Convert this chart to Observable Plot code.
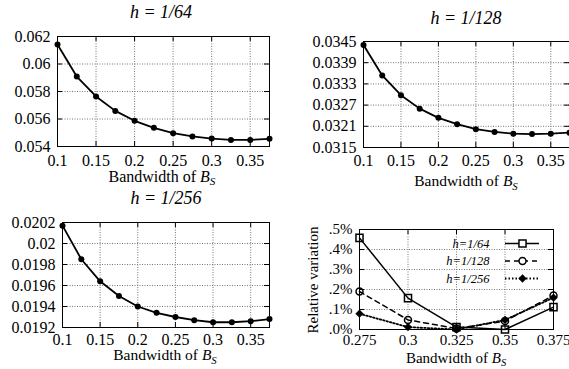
<!DOCTYPE html>
<html><head><meta charset="utf-8">
<script src="https://cdn.jsdelivr.net/npm/d3@7"></script>
<script src="https://cdn.jsdelivr.net/npm/@observablehq/plot@0.6"></script>
<style>
body{margin:0;background:#fff;font-family:"Liberation Serif","Times New Roman",serif;}
#root{position:relative;width:569px;height:369px;overflow:hidden;color:#000;background:#fff;font-family:"Liberation Serif","Times New Roman",serif;}
.panel{position:absolute;}
.title{position:absolute;font-style:italic;white-space:nowrap;transform:translate(-50%,-50%);line-height:1;}
.xlabel{position:absolute;white-space:nowrap;transform:translate(-50%,-50%);line-height:1;}
.xlabel sub{font-size:70%;vertical-align:-0.3em;line-height:0;}
.ylabel{position:absolute;white-space:nowrap;transform:translate(-50%,-50%) rotate(-90deg);line-height:1;}
</style></head><body><div id="root"></div>
<script>
// ---- data ----
const bandwidth = [0.1, 0.125, 0.15, 0.175, 0.2, 0.225, 0.25, 0.275, 0.3, 0.325, 0.35, 0.375];
const err64  = [0.06142, 0.05909, 0.05764, 0.05659, 0.05587, 0.05536, 0.05497, 0.05473, 0.05458, 0.05448, 0.05448, 0.05456];
const err128 = [0.03440, 0.03354, 0.03298, 0.03260, 0.03234, 0.03216, 0.03202, 0.03194, 0.03189, 0.03188, 0.03189, 0.03192];
const err256 = [0.02017, 0.01985, 0.01964, 0.01950, 0.01940, 0.01934, 0.01930, 0.01927, 0.01925, 0.01925, 0.01926, 0.01928];
const xTicksMain = [0.1, 0.15, 0.2, 0.25, 0.3, 0.35];
const xTickLabelsMain = ["0.1", "0.15", "0.2", "0.25", "0.3", "0.35"];
const yTicks64 = [0.054, 0.056, 0.058, 0.06, 0.062];
const yTickLabels64 = ["0.054", "0.056", "0.058", "0.06", "0.062"];
const yTicks128 = [0.0315, 0.0321, 0.0327, 0.0333, 0.0339, 0.0345];
const yTickLabels128 = ["0.0315", "0.0321", "0.0327", "0.0333", "0.0339", "0.0345"];
const yTicks256 = [0.0192, 0.0194, 0.0196, 0.0198, 0.02, 0.0202];
const yTickLabels256 = ["0.0192", "0.0194", "0.0196", "0.0198", "0.02", "0.0202"];

const bwVar = [0.275, 0.3, 0.325, 0.35, 0.375];
const var64  = [0.458, 0.157, 0.012, 0.000, 0.112]; // percent
const var128 = [0.190, 0.048, 0.005, 0.042, 0.170];
const var256 = [0.079, 0.012, 0.000, 0.048, 0.159];
const xTicksVar = [0.275, 0.3, 0.325, 0.35, 0.375];
const xTickLabelsVar = ["0.275", "0.3", "0.325", "0.35", "0.375"];
const yTicksVar = [0, 0.1, 0.2, 0.3, 0.4, 0.5];
const yTickLabelsVar = [".0%", ".1%", ".2%", ".3%", ".4%", ".5%"];

const seriesNames = ["h=1/64", "h=1/128", "h=1/256"];
const titles = ["h = 1/64", "h = 1/128", "h = 1/256"];
const xLabelText = "Bandwidth of ";
const yLabelVar = "Relative variation";

// ---- helpers ----
const root = document.getElementById("root");
const FONT = '"Liberation Serif", "Times New Roman", serif';

// warm up the serif font before drawing
(function warm() {
  const c = document.createElement("canvas").getContext("2d");
  for (const st of ["", "italic "]) { c.font = `${st}16px "Liberation Serif"`; c.measureText("Bandwidth 0.0123456789 h=1/64 %"); }
})();

function panel({left, top, width, height, mL, mR, mT, mB, xDomain, yDomain, xTicks, xLabels, yTicks, yLabels, marks, fontSize, xPad}) {
  const W = width - mL - mR, H = height - mT - mB, t = 5;
  const grid = {stroke: "#777", strokeOpacity: 1, strokeWidth: 1, strokeDasharray: "1,1.5"};
  const txt = {fill: "#000", fontFamily: FONT, fontSize, fontVariant: "normal"};
  const svg = Plot.plot({
    width, height, marginLeft: mL, marginRight: mR, marginTop: mT, marginBottom: mB,
    style: {fontFamily: FONT, fontSize: fontSize + "px", color: "#000", background: "none", overflow: "visible"},
    x: {domain: xDomain, axis: null},
    y: {domain: yDomain, axis: null},
    marks: [
      Plot.gridX(xTicks, grid),
      Plot.gridY(yTicks, grid),
      Plot.text(xTicks, {x: d => d, text: (d, i) => xLabels[i], frameAnchor: "bottom", lineAnchor: "top", dy: xPad, ...txt}),
      Plot.text(yTicks, {y: d => d, text: (d, i) => yLabels[i], frameAnchor: "left", textAnchor: "end", dx: -7, ...txt}),
      Plot.tickX(xTicks, {x: d => d, insetTop: H - t, stroke: "#000"}),
      Plot.tickX(xTicks, {x: d => d, insetBottom: H - t, stroke: "#000"}),
      Plot.tickY(yTicks, {y: d => d, insetRight: W - t, stroke: "#000"}),
      Plot.tickY(yTicks, {y: d => d, insetLeft: W - t, stroke: "#000"}),
      ...marks,
      Plot.frame({stroke: "#000", strokeWidth: 1})
    ]
  });
  const div = document.createElement("div");
  div.className = "panel";
  div.style.left = left + "px";
  div.style.top = top + "px";
  div.appendChild(svg);
  root.appendChild(div);
}

function curveMarks(values) {
  const data = bandwidth.map((b, i) => ({b, v: values[i]}));
  return [
    Plot.line(data, {x: "b", y: "v", stroke: "#000", strokeWidth: 1.8}),
    Plot.dot(data, {x: "b", y: "v", r: 3, fill: "#000"})
  ];
}

function addText(cls, html, x, y, size) {
  const d = document.createElement("div");
  d.className = cls;
  d.style.left = x + "px";
  d.style.top = y + "px";
  d.style.fontSize = size + "px";
  d.style.fontFamily = FONT;
  d.innerHTML = html;
  root.appendChild(d);
}
const xLabelHTML = `${xLabelText}<i>B<sub>S</sub></i>`;

function render() {
  root.innerHTML = "";
  // ---- panel 1: h = 1/64 ----
  panel({left: 0, top: 0, width: 285, height: 185, mL: 57, mR: 16, mT: 36, mB: 39,
    xDomain: [0.1, 0.375], yDomain: [0.054, 0.062], xTicks: xTicksMain, xLabels: xTickLabelsMain,
    yTicks: yTicks64, yLabels: yTickLabels64, marks: curveMarks(err64), fontSize: 16, xPad: 8});
  addText("title", titles[0], 161, 12, 18);
  addText("xlabel", xLabelHTML, 162, 177, 16);

  // ---- panel 2: h = 1/128 ----
  panel({left: 285, top: 0, width: 284, height: 185, mL: 78, mR: 0, mT: 41, mB: 38,
    xDomain: [0.1, 0.375], yDomain: [0.0315, 0.0345], xTicks: xTicksMain, xLabels: xTickLabelsMain,
    yTicks: yTicks128, yLabels: yTickLabels128, marks: curveMarks(err128), fontSize: 16, xPad: 7});
  addText("title", titles[1], 466, 17.5, 18);
  addText("xlabel", xLabelHTML, 466, 180.5, 15.5);

  // ---- panel 3: h = 1/256 ----
  panel({left: 0, top: 185, width: 285, height: 184, mL: 62, mR: 16, mT: 37, mB: 42,
    xDomain: [0.1, 0.375], yDomain: [0.0192, 0.0202], xTicks: xTicksMain, xLabels: xTickLabelsMain,
    yTicks: yTicks256, yLabels: yTickLabels256, marks: curveMarks(err256), fontSize: 16, xPad: 6});
  addText("title", titles[2], 166, 197.5, 18);
  addText("xlabel", xLabelHTML, 165, 355, 15.5);

  // ---- panel 4: relative variation ----
  const varSeries = [
    {name: seriesNames[0], values: var64, dash: null, symbol: "square", r: 4, fill: "none", sw: 1.5},
    {name: seriesNames[1], values: var128, dash: "5,4", symbol: "circle", r: 3.5, fill: "none", sw: 1.5},
    {name: seriesNames[2], values: var256, dash: "1.5,2", symbol: "diamond2", r: 2.8, fill: "#000", sw: 1.8}
  ];
  const varMarks = varSeries.flatMap(s => {
    const data = bwVar.map((b, i) => ({b, v: s.values[i]}));
    return [
      Plot.line(data, {x: "b", y: "v", stroke: "#000", strokeWidth: s.sw, strokeDasharray: s.dash}),
      Plot.dot(data, {x: "b", y: "v", symbol: s.symbol, r: s.r, stroke: "#000", strokeWidth: 1.5, fill: s.fill})
    ];
  });
  panel({left: 285, top: 185, width: 284, height: 184, mL: 74, mR: 16, mT: 44, mB: 40,
    xDomain: [0.275, 0.375], yDomain: [0, 0.5], xTicks: xTicksVar, xLabels: xTickLabelsVar,
    yTicks: yTicksVar, yLabels: yTickLabelsVar, marks: varMarks, fontSize: 15, xPad: 5});
  addText("xlabel", xLabelHTML, 456, 358, 15);
  addText("ylabel", yLabelVar, 313, 279.5, 15);

  // legend (drawn with Plot, identity scales)
  const legendRows = varSeries.map((s, i) => ({...s, y: 11 + i * 17.5}));
  const legend = Plot.plot({
    width: 110, height: 56, margin: 0,
    style: {fontFamily: FONT, fontSize: "12.5px", background: "none", overflow: "visible"},
    x: {type: "identity", axis: null}, y: {type: "identity", axis: null},
    marks: legendRows.flatMap(s => [
      Plot.text([s], {x: 49, y: "y", text: "name", textAnchor: "end", fontStyle: "italic", fill: "#000", fontFamily: FONT, fontSize: 12.5}),
      Plot.ruleY([s], {y: "y", x1: 65, x2: 99, stroke: "#000", strokeWidth: s.sw, strokeDasharray: s.dash}),
      Plot.dot([s], {x: 82, y: "y", symbol: s.symbol, r: s.r, stroke: "#000", strokeWidth: 1.5, fill: s.fill === "none" ? "#fff" : s.fill})
    ])
  });
  const ld = document.createElement("div");
  ld.className = "panel";
  ld.style.left = "440px";
  ld.style.top = "232px";
  ld.appendChild(legend);
  root.appendChild(ld);
}

render();
// force layout, then redraw once the serif faces are surely loaded
root.getBoundingClientRect();
if (document.fonts && document.fonts.load) {
  Promise.all([
    document.fonts.load('16px "Liberation Serif"'),
    document.fonts.load('italic 16px "Liberation Serif"')
  ]).then(render).catch(() => {});
}
</script>
</body></html>
